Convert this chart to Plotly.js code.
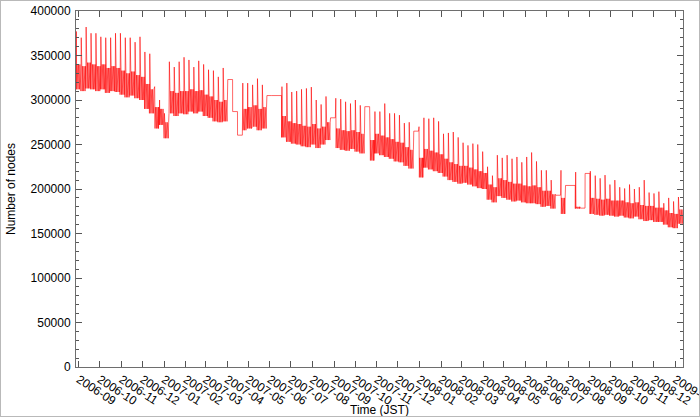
<!DOCTYPE html>
<html><head><meta charset="utf-8">
<script src="https://cdn.plot.ly/plotly-3.0.1.min.js"></script>
<style>
html,body{margin:0;padding:0;background:#fff}
#chart{width:700px;height:417px}
#frame{position:absolute;left:0;top:0;width:698px;height:415px;border:1px solid #b9b9b9;pointer-events:none}
</style>
</head><body><div id="chart"></div><div id="frame"></div>
<script>
// Weekly readings (Monday-start weeks beginning at weekStart)
const weekStart = '2006-08-28';
// highest spike of each week
const weeklyPeak = [377000,370000,382000,375000,375000,371000,370000,370000,375000,375000,
370000,370000,365000,371000,354000,352000,315000,300000,285000,343000,
337000,343000,348000,345000,337000,344000,340000,334000,333000,326000,
336000,323000,287000,260500,319000,319000,317000,324000,317000,305000,
305000,305000,315000,319000,309000,310000,312000,313000,314500,300000,
295000,304000,280000,302000,301000,298000,296000,300000,294000,292500,
288000,287000,287000,296000,285000,285000,283000,274000,275000,265000,
270000,280000,279000,280000,276000,262000,263000,264000,258000,252000,
249000,251000,250000,242000,225000,215000,238000,235000,238000,234000,
236000,230000,236000,241000,231000,221000,221000,210000,193000,221000,
204000,204000,219000,178500,217500,220000,215000,212000,215600,205000,
210000,202000,200600,205000,200000,202000,210000,196000,195000,197000,
184000,190000,186000,191000];
// typical daily maximum (top of the dense band)
const dailyPeak = [340000,338000,342000,340000,338000,340000,336000,338000,336000,333000,
330000,332000,328000,326000,318000,312000,292000,290000,275000,310000,
308000,310000,310000,312000,310000,311000,306000,304000,300000,298000,
300000,323000,287000,260500,290000,292000,294000,290000,292000,305000,
305000,305000,282000,276000,274000,273000,271000,270000,273000,268000,
270000,275000,280000,268000,266000,265000,266000,264000,262000,292500,
255000,262000,260000,258000,256000,253000,252000,247000,244000,265000,
235000,245000,243000,241000,239000,234000,230000,228000,226000,226000,
224000,222000,220000,218000,205000,202000,212000,210000,208000,206000,
206000,204000,203000,204000,202000,198000,198000,194000,193000,190000,
204000,204000,180000,178500,217500,190000,189000,188000,189000,187000,
187000,187000,185000,184000,185000,182000,181000,181000,179000,179000,
176000,173000,172000,177000];
// typical daily minimum
const dailyLow = [312000,310000,313000,312000,310000,312000,308000,310000,309000,306000,
303000,305000,302000,300000,290000,285000,268000,272000,257000,285000,
282000,285000,284000,287000,285000,287000,282000,280000,276000,275000,
276000,323000,287000,260500,266000,268000,270000,266000,268000,305000,
305000,305000,258000,253000,251000,250000,248000,247000,250000,246000,
250000,255000,280000,246000,244000,243000,245000,242000,240000,292500,
232000,240000,238000,236000,234000,231000,230000,226000,223000,265000,
213000,224000,222000,220000,218000,214000,210000,208000,206000,207000,
205000,203000,201000,200000,188000,185000,192000,190000,188000,186000,
187000,185000,184000,184000,183000,180000,181000,178000,193000,172000,
204000,204000,178000,178500,217500,172000,171000,170000,171000,170000,
169000,170000,168000,167000,169000,166000,164000,165000,163000,163000,
160000,157000,156000,161000];

const DAY = 86400000;
const t0 = Date.parse(weekStart + 'T00:00:00Z');
function iso(ms){ return new Date(ms).toISOString().slice(0,16).replace('T',' '); }
const xs = [], ys = [];
for (let i = 0; i < weeklyPeak.length; i++) {
  const ws = t0 + i * 7 * DAY;
  if (weeklyPeak[i] === dailyLow[i]) { // no data: flat line
    xs.push(iso(ws)); ys.push(dailyLow[i]);
    xs.push(iso(ws + 6.9 * DAY)); ys.push(dailyLow[i]);
    continue;
  }
  for (let d = 0; d < 7; d++) {
    xs.push(iso(ws + d * DAY)); ys.push(dailyLow[i]);
    xs.push(iso(ws + d * DAY + DAY / 2)); ys.push(d === 0 ? weeklyPeak[i] : dailyPeak[i]);
  }
}

const axisCommon = {
  showline: true, linecolor: '#6e6e6e', linewidth: 1, mirror: 'allticks',
  ticks: 'inside', ticklen: 6, tickcolor: '#555', showgrid: false, zeroline: false
};
const layout = {
  width: 700, height: 417,
  margin: {l: 76, r: 17, t: 11, b: 50},
  paper_bgcolor: '#fff', plot_bgcolor: '#fff',
  font: {family: 'Liberation Sans, Arial, sans-serif', size: 12, color: '#000'},
  showlegend: false,
  xaxis: Object.assign({}, axisCommon, {
    type: 'date', range: ['2006-08-28', '2009-01-12'],
    tick0: '2006-09-01', dtick: 'M1', tickformat: '%Y-%m', tickangle: 33,
    tickfont: {size: 12}, ticklabeloverflow: 'allow',
    title: {text: 'Time (JST)', font: {size: 12}, standoff: 2}
  }),
  yaxis: Object.assign({}, axisCommon, {
    range: [0, 400000], dtick: 50000, tickformat: 'd',
    tickfont: {size: 12}, ticklabelstandoff: 2,
    minor: {dtick: 10000, ticks: 'inside', ticklen: 3, tickcolor: '#555'},
    title: {text: 'Number of nodes', font: {size: 12}, standoff: 12}
  })
};
Plotly.newPlot('chart', [{
  type: 'scatter', mode: 'lines', x: xs, y: ys,
  line: {color: 'rgb(255,0,0)', width: 0.6}, hoverinfo: 'skip'
}], layout, {displayModeBar: false, staticPlot: true});
</script>
</body></html>
